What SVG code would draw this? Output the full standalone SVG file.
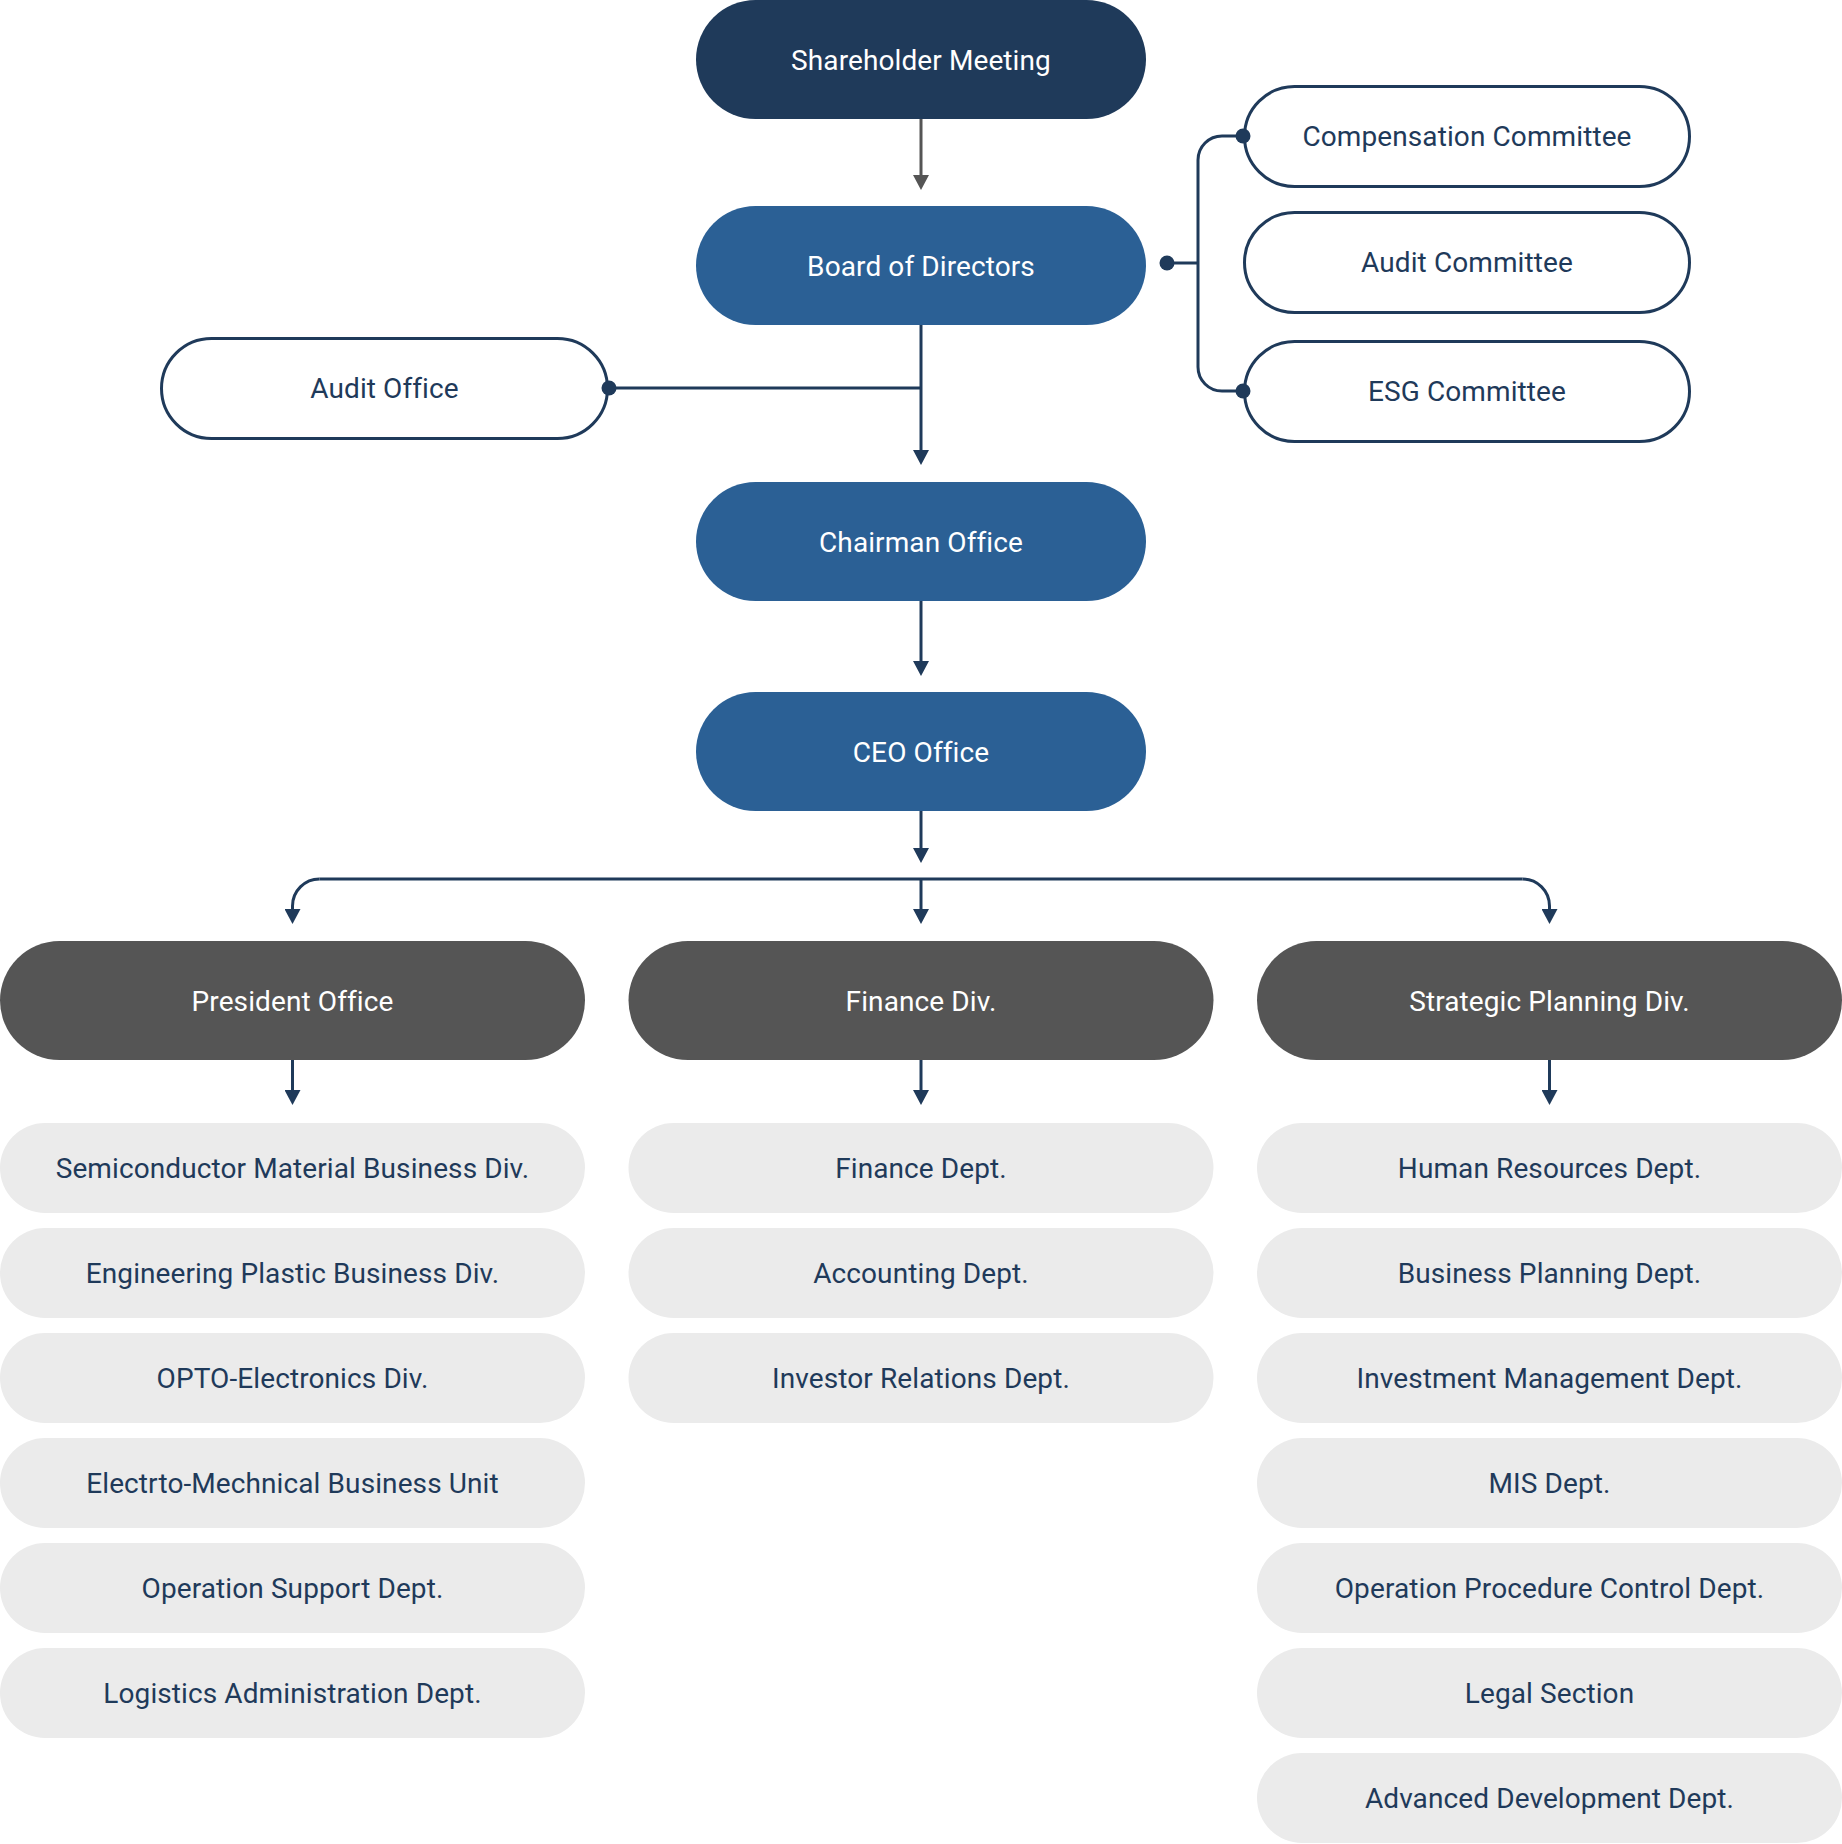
<svg xmlns="http://www.w3.org/2000/svg" width="1842" height="1844" viewBox="0 0 1842 1844">
<style>
  text { font-family: Roboto, "Liberation Sans", sans-serif; font-size: 28px; text-anchor: middle; letter-spacing: 0.1px; }
  .top { fill: #1f3a5a; }
  .blue { fill: #2b6095; }
  .dark { fill: #555555; }
  .outline { fill: #ffffff; stroke: #1f3a5a; stroke-width: 3; }
  .gray { fill: #ebebeb; }
  .wt { fill: #ffffff; }
  .nt { fill: #1f3a5a; }
  .ln { fill: none; stroke: #1f3a5a; stroke-width: 3; }
  .lg { fill: none; stroke: #555555; stroke-width: 3; }
  .dot { fill: #1f3a5a; }
</style>
<defs>
  <marker id="an" markerUnits="userSpaceOnUse" viewBox="0 0 15 16" markerWidth="15" markerHeight="16" refX="6" refY="8" orient="auto">
    <path d="M0,0 L15,8 L0,16 z" fill="#1f3a5a"/>
  </marker>
  <marker id="ag" markerUnits="userSpaceOnUse" viewBox="0 0 15 16" markerWidth="15" markerHeight="16" refX="6" refY="8" orient="auto">
    <path d="M0,0 L15,8 L0,16 z" fill="#555555"/>
  </marker>
</defs>

<g id="connectors">
  <path class="lg" d="M921,119 V181" marker-end="url(#ag)"/>
  <path class="ln" d="M921,325 V456" marker-end="url(#an)"/>
  <path class="ln" d="M609,388 H921"/>
  <path class="ln" d="M1167,263 H1198"/>
  <path class="ln" d="M1243,136 H1222 A24,24 0 0 0 1198,160 V367 A24,24 0 0 0 1222,391 H1243"/>
  <path class="ln" d="M921,601 V667" marker-end="url(#an)"/>
  <path class="ln" d="M921,810 V854" marker-end="url(#an)"/>
  <path class="ln" d="M319.5,879 H1522.5"/>
  <path class="ln" d="M319.5,879 A27,27 0 0 0 292.5,906 V915" marker-end="url(#an)"/>
  <path class="ln" d="M1522.5,879 A27,27 0 0 1 1549.5,906 V915" marker-end="url(#an)"/>
  <path class="ln" d="M921,879 V915" marker-end="url(#an)"/>
  <path class="ln" d="M292.5,1060 V1096" marker-end="url(#an)"/>
  <path class="ln" d="M921,1060 V1096" marker-end="url(#an)"/>
  <path class="ln" d="M1549.5,1060 V1096" marker-end="url(#an)"/>
</g>

<g id="shareholder-meeting"><rect class="top" x="696" y="0" width="450" height="119" rx="59.5"/><text class="wt" x="921" y="70">Shareholder Meeting</text></g>
<g id="board-of-directors"><rect class="blue" x="696" y="206" width="450" height="119" rx="59.5"/><text class="wt" x="921" y="276">Board of Directors</text></g>
<g id="chairman-office"><rect class="blue" x="696" y="482" width="450" height="119" rx="59.5"/><text class="wt" x="921" y="552">Chairman Office</text></g>
<g id="ceo-office"><rect class="blue" x="696" y="692" width="450" height="119" rx="59.5"/><text class="wt" x="921" y="762">CEO Office</text></g>

<g id="audit-office"><rect class="outline" x="161.5" y="338.5" width="446" height="100" rx="50"/><text class="nt" x="384.5" y="398">Audit Office</text></g>
<g id="compensation-committee"><rect class="outline" x="1244.5" y="86.5" width="445" height="100" rx="50"/><text class="nt" x="1467" y="146">Compensation Committee</text></g>
<g id="audit-committee"><rect class="outline" x="1244.5" y="212.5" width="445" height="100" rx="50"/><text class="nt" x="1467" y="272">Audit Committee</text></g>
<g id="esg-committee"><rect class="outline" x="1244.5" y="341.5" width="445" height="100" rx="50"/><text class="nt" x="1467" y="401">ESG Committee</text></g>

<g id="president-office"><rect class="dark" x="0" y="941" width="585" height="119" rx="59.5"/><text class="wt" x="292.5" y="1011">President Office</text></g>
<g id="finance-div"><rect class="dark" x="628.5" y="941" width="585" height="119" rx="59.5"/><text class="wt" x="921" y="1011">Finance Div.</text></g>
<g id="strategic-planning-div"><rect class="dark" x="1257" y="941" width="585" height="119" rx="59.5"/><text class="wt" x="1549.5" y="1011">Strategic Planning Div.</text></g>

<g id="semiconductor-material"><rect class="gray" x="0" y="1123" width="585" height="90" rx="45"/><text class="nt" x="292.5" y="1178">Semiconductor Material Business Div.</text></g>
<g id="engineering-plastic"><rect class="gray" x="0" y="1228" width="585" height="90" rx="45"/><text class="nt" x="292.5" y="1283">Engineering Plastic Business Div.</text></g>
<g id="opto-electronics"><rect class="gray" x="0" y="1333" width="585" height="90" rx="45"/><text class="nt" x="292.5" y="1388">OPTO-Electronics Div.</text></g>
<g id="electro-mechanical"><rect class="gray" x="0" y="1438" width="585" height="90" rx="45"/><text class="nt" x="292.5" y="1493">Electrto-Mechnical Business Unit</text></g>
<g id="operation-support"><rect class="gray" x="0" y="1543" width="585" height="90" rx="45"/><text class="nt" x="292.5" y="1598">Operation Support Dept.</text></g>
<g id="logistics-admin"><rect class="gray" x="0" y="1648" width="585" height="90" rx="45"/><text class="nt" x="292.5" y="1703">Logistics Administration Dept.</text></g>

<g id="finance-dept"><rect class="gray" x="628.5" y="1123" width="585" height="90" rx="45"/><text class="nt" x="921" y="1178">Finance Dept.</text></g>
<g id="accounting-dept"><rect class="gray" x="628.5" y="1228" width="585" height="90" rx="45"/><text class="nt" x="921" y="1283">Accounting Dept.</text></g>
<g id="investor-relations"><rect class="gray" x="628.5" y="1333" width="585" height="90" rx="45"/><text class="nt" x="921" y="1388">Investor Relations Dept.</text></g>

<g id="human-resources"><rect class="gray" x="1257" y="1123" width="585" height="90" rx="45"/><text class="nt" x="1549.5" y="1178">Human Resources Dept.</text></g>
<g id="business-planning"><rect class="gray" x="1257" y="1228" width="585" height="90" rx="45"/><text class="nt" x="1549.5" y="1283">Business Planning Dept.</text></g>
<g id="investment-management"><rect class="gray" x="1257" y="1333" width="585" height="90" rx="45"/><text class="nt" x="1549.5" y="1388">Investment Management Dept.</text></g>
<g id="mis-dept"><rect class="gray" x="1257" y="1438" width="585" height="90" rx="45"/><text class="nt" x="1549.5" y="1493">MIS Dept.</text></g>
<g id="operation-procedure"><rect class="gray" x="1257" y="1543" width="585" height="90" rx="45"/><text class="nt" x="1549.5" y="1598">Operation Procedure Control Dept.</text></g>
<g id="legal-section"><rect class="gray" x="1257" y="1648" width="585" height="90" rx="45"/><text class="nt" x="1549.5" y="1703">Legal Section</text></g>
<g id="advanced-development"><rect class="gray" x="1257" y="1753" width="585" height="90" rx="45"/><text class="nt" x="1549.5" y="1808">Advanced Development Dept.</text></g>

<g id="connector-dots">
  <circle class="dot" cx="609" cy="388" r="7.5"/>
  <circle class="dot" cx="1167" cy="263" r="7.5"/>
  <circle class="dot" cx="1243" cy="136" r="7.5"/>
  <circle class="dot" cx="1243" cy="391" r="7.5"/>
</g>
</svg>
